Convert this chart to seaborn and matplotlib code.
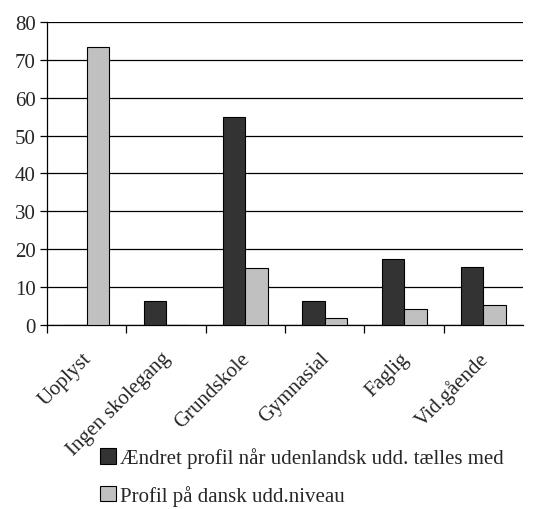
import pandas as pd
import seaborn as sns
import matplotlib.pyplot as plt
import matplotlib.transforms as mtransforms

# data
categories = ['Uoplyst', 'Ingen skolegang', 'Grundskole', 'Gymnasial', 'Faglig', 'Vid.gående']
aendret = [0, 6.3, 54.8, 6.3, 17.5, 15.2]
dansk = [73.5, 0, 15.1, 1.9, 4.3, 5.3]
series = ['Ændret profil når udenlandsk udd. tælles med', 'Profil på dansk udd.niveau']

df = pd.DataFrame({
    'kategori': categories * 2,
    'værdi': aendret + dansk,
    'serie': [series[0]] * len(categories) + [series[1]] * len(categories),
})

sns.set_style('white')
plt.rcParams['font.family'] = ['Liberation Serif', 'DejaVu Serif']
plt.rcParams['font.size'] = 15

fig = plt.figure(figsize=(5.41, 5.10), dpi=100)
ax = fig.add_axes([0.087, 0.361, 0.88, 0.594])

sns.barplot(data=df, x='kategori', y='værdi', hue='serie', order=categories,
            hue_order=series, palette=['#333333', '#c0c0c0'], width=0.566,
            edgecolor='black', linewidth=0.8, saturation=1, ax=ax, zorder=3)

ax.set_ylim(0, 80)
ax.set_xlim(-0.5, 5.5)
ax.set_yticks(range(0, 81, 10))
ax.yaxis.grid(True, color='black', linewidth=0.9, zorder=0)
ax.set_axisbelow(True)
ax.set_xlabel('')
ax.set_ylabel('')

ax.set_xticks(range(len(categories)))
ax.set_xticklabels(categories, rotation=45, ha='right', va='top', rotation_mode='anchor')
ax.set_xticks([i - 0.5 for i in range(len(categories))], minor=True)
ax.tick_params(axis='x', which='major', length=0, pad=17)
ax.tick_params(axis='x', which='minor', length=6, width=0.9, color='black', direction='out', bottom=True)
ax.tick_params(axis='y', length=5, width=0.9, color='black', direction='out', left=True, pad=3)
shift = mtransforms.ScaledTranslation(-5 / 100, 0, fig.dpi_scale_trans)
for lbl in ax.get_xticklabels():
    lbl.set_transform(lbl.get_transform() + shift)

for s in ['top', 'right']:
    ax.spines[s].set_visible(False)
for s in ['left', 'bottom']:
    ax.spines[s].set_color('black')
    ax.spines[s].set_linewidth(0.9)

handles, labels = ax.get_legend_handles_labels()
ax.get_legend().remove()
fig.legend(handles, labels, loc='upper left', bbox_to_anchor=(0.17, 0.137),
           frameon=False, handlelength=0.75, handleheight=0.75, handletextpad=0.2,
           labelspacing=0.8, fontsize=15, borderaxespad=0)

plt.savefig('out.png', dpi=100)
